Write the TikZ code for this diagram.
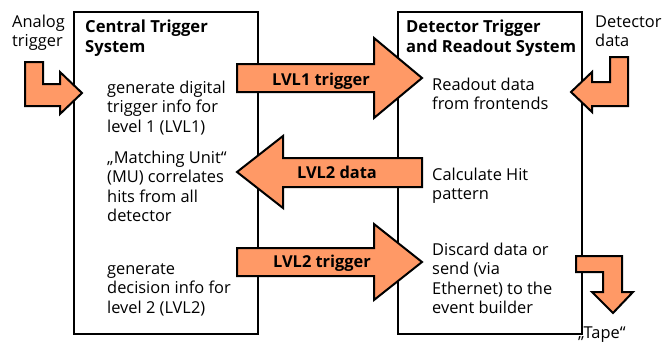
\documentclass[tikz,border=0pt]{standalone}
\usepackage{fontspec}
\setmainfont{Open Sans}
\definecolor{arrfill}{RGB}{255,153,102}
\begin{document}
\begin{tikzpicture}[x=1pt,y=-1pt,
  sysbox/.style={draw=black,line width=2pt},
  fatarrow/.style={draw=black,fill=arrfill,line width=2pt,line join=miter},
  txt/.style={anchor=base west,inner sep=0pt,align=left,font=\fontsize{16.4}{19.5}\selectfont},
  ttl/.style={anchor=base west,inner sep=0pt,align=left,font=\fontsize{16.6}{20.5}\selectfont\bfseries},
  arrlabel/.style={anchor=base,inner sep=0pt,font=\fontsize{16.4}{19}\selectfont\bfseries}]
\useasboundingbox (0,0) rectangle (662,341);
% system boxes
\draw[sysbox] (74,12) rectangle (258,334);
\draw[sysbox] (398,12) rectangle (582,334);
% titles (base = last line)
\node[ttl] (cts) at (85,52.5) {Central Trigger\\System};
\node[ttl] (dtrs) at (406,52.5) {Detector Trigger\\and Readout System};
% side labels
\node[txt] (analog) at (12,46.5) {Analog\\trigger};
\node[txt] (detdata) at (595,46.5) {Detector\\data};
\node[txt] (tape) at (578,338.5) {„Tape“};
% left texts
\node[txt] (l1) at (107,132) {generate digital\\trigger info for\\level 1 (LVL1)};
\node[txt] (l2) at (107,221.5) {„Matching Unit“\\(MU) correlates\\hits from all\\detector};
\node[txt] (l3) at (107,313) {generate\\decision info for\\level 2 (LVL2)};
% right texts
\node[txt] (r1) at (432,109.5) {Readout data\\from frontends};
\node[txt] (r2) at (432,199.5) {Calculate Hit\\pattern};
\node[txt] (r3) at (432,313.5) {Discard data or\\send (via\\Ethernet) to the\\event builder};
% central arrows
\draw[fatarrow] (237,64) -- (374,64) -- (374,38) -- (422,78) -- (374,118) -- (374,92) -- (237,92) -- cycle;
\draw[fatarrow] (422,158) -- (283,158) -- (283,136) -- (237,172) -- (283,208) -- (283,187) -- (422,187) -- cycle;
\draw[fatarrow] (237,248) -- (374,248) -- (374,224) -- (422,262) -- (374,300) -- (374,276) -- (237,276) -- cycle;
\node[arrlabel] (a1) at (321,85) {LVL1 trigger};
\node[arrlabel] (a2) at (337,178) {LVL2 data};
\node[arrlabel] (a3) at (322,267) {LVL2 trigger};
% bent side arrows
\draw[fatarrow] (25,62) -- (43,62) -- (43,84) -- (60,84) -- (60,72) -- (82,93) -- (60,114) -- (60,106) -- (25,106) -- cycle;
\draw[fatarrow] (628,57) -- (610,57) -- (610,82) -- (592,82) -- (592,72) -- (571,92) -- (592,112) -- (592,106) -- (628,106) -- cycle;
\draw[fatarrow] (576,256) -- (622,256) -- (622,292) -- (633,292) -- (613,313) -- (592,292) -- (603,292) -- (603,272) -- (576,272) -- cycle;
\end{tikzpicture}
\end{document}
